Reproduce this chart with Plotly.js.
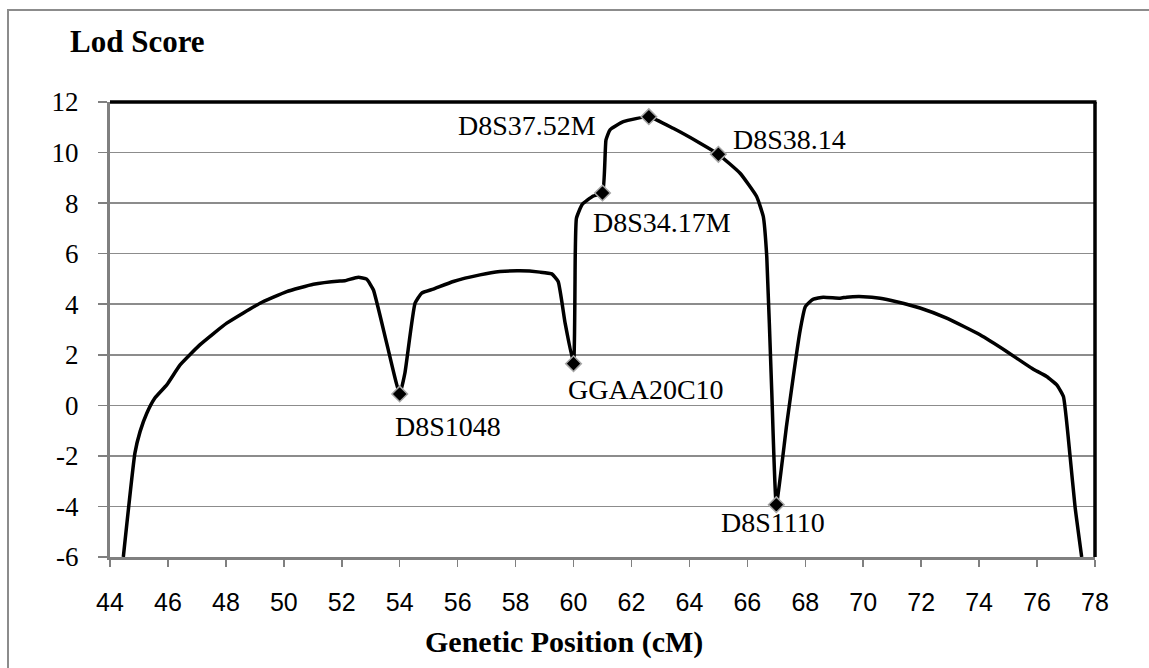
<!DOCTYPE html>
<html>
<head>
<meta charset="utf-8">
<script src="https://cdn.plot.ly/plotly-3.0.1.min.js"></script>
<style>html,body{margin:0;padding:0;background:#fff;}</style>
</head>
<body>
<div id="chart" style="width:1149px;height:668px;"></div>
<script>
// Lod score curve (genetic position in cM, lod score)
const positions = [44.46, 44.86, 45.04, 45.27, 45.55, 45.96, 46.42, 47.11, 48.03, 49.18, 50.1, 51.02, 51.94, 52.11, 52.57, 52.86, 53.09, 53.55, 54.0, 54.18, 54.53, 54.76, 55.16, 55.85, 56.77, 57.46, 58.15, 58.84, 59.25, 59.47, 59.71, 60.0, 60.06, 60.1, 60.3, 60.68, 61.0, 61.12, 61.26, 61.72, 62.6, 63.44, 64.37, 65.0, 65.75, 66.32, 66.55, 66.67, 66.84, 67.0, 67.36, 67.82, 68.0, 68.16, 68.28, 68.62, 69.2, 69.43, 70.0, 70.58, 71.15, 71.96, 72.88, 74.03, 74.95, 75.64, 75.87, 76.33, 76.68, 76.91, 77.14, 77.31, 77.54];
const lodScores = [-6, -1.89, -1.03, -0.31, 0.29, 0.81, 1.6, 2.4, 3.25, 4.04, 4.5, 4.79, 4.92, 4.93, 5.07, 4.99, 4.57, 2.46, 0.45, 1.28, 4.04, 4.44, 4.6, 4.9, 5.16, 5.29, 5.32, 5.27, 5.2, 4.9, 3.25, 1.65, 6.0, 7.4, 7.95, 8.28, 8.4, 10.5, 10.9, 11.22, 11.42, 10.96, 10.37, 9.93, 9.18, 8.26, 7.47, 5.89, 0.62, -3.93, -0.75, 2.95, 3.9, 4.1, 4.2, 4.28, 4.24, 4.28, 4.3, 4.24, 4.1, 3.85, 3.45, 2.79, 2.13, 1.6, 1.43, 1.14, 0.81, 0.35, -2.02, -4.0, -6];

// Marker loci
const markerNames = ["D8S1048", "GGAA20C10", "D8S34.17M", "D8S37.52M", "D8S38.14", "D8S1110"];
const markerPos = [54.0, 60.0, 61.0, 62.6, 65.0, 67.0];
const markerLod = [0.45, 1.65, 8.4, 11.42, 9.93, -3.93];
// label anchor positions (data coords)
const labelX = [55.68, 62.5, 63.05, 58.39, 67.44, 66.87];
const labelY = [-0.82, 0.61, 7.25, 11.09, 10.5, -4.65];

// Axis ticks
const yTickVals = [-6, -4, -2, 0, 2, 4, 6, 8, 10, 12];
const yTickText = ["-6", "-4", "-2", "0", "2", "4", "6", "8", "10", "12"];
const xTickVals = [44, 46, 48, 50, 52, 54, 56, 58, 60, 62, 64, 66, 68, 70, 72, 74, 76, 78];

const serif = "Liberation Serif";
const sans = "Liberation Sans";

const traces = [
  {
    x: positions, y: lodScores, type: 'scatter', mode: 'lines',
    line: {color: '#000', width: 3.5, shape: 'spline', smoothing: 0.4},
    hoverinfo: 'skip', showlegend: false
  },
  {
    x: markerPos, y: markerLod, type: 'scatter', mode: 'markers',
    text: markerNames,
    marker: {symbol: 'diamond', size: 12, color: '#000', line: {color: '#a6a6a6', width: 1.5}},
    showlegend: false, cliponaxis: false
  }
];

const annotations = markerNames.map((n, i) => ({
  x: labelX[i], y: labelY[i], xref: 'x', yref: 'y', text: n, showarrow: false,
  xanchor: 'center', yanchor: 'middle',
  font: {family: serif, size: 28, color: '#000'}
}));
annotations.push({
  x: (564 - 110) / 985, y: (557 - 642) / 455, xref: 'paper', yref: 'paper',
  text: '<b>Genetic Position (cM)</b>', showarrow: false,
  xanchor: 'center', yanchor: 'middle',
  font: {family: serif, size: 30, color: '#000'}
});

const layout = {
  width: 1149, height: 668,
  margin: {l: 110, r: 54, t: 102, b: 111, pad: 0},
  paper_bgcolor: '#fff', plot_bgcolor: '#fff',
  showlegend: false,
  title: {
    text: '<b>Lod Score</b>', xref: 'container', yref: 'container',
    x: 70 / 1149, xanchor: 'left', y: 1 - 41 / 668, yanchor: 'middle',
    font: {family: serif, size: 31, color: '#000'}
  },
  xaxis: {
    range: [44, 78], tickvals: xTickVals, showgrid: false, zeroline: false,
    showline: true, linecolor: '#808080', linewidth: 3,
    ticks: 'outside', ticklen: 7, tickwidth: 1.5, tickcolor: '#808080',
    ticklabelstandoff: 14,
    tickfont: {family: sans, size: 25, color: '#000'}
  },
  yaxis: {
    range: [-6, 12], tickvals: yTickVals, ticktext: yTickText,
    showgrid: true, gridcolor: '#8c8c8c', gridwidth: 1.5, zeroline: false,
    showline: true, linecolor: '#808080', linewidth: 3,
    ticks: 'outside', ticklen: 9, tickwidth: 1.5, tickcolor: '#808080',
    ticklabelstandoff: 14,
    tickfont: {family: serif, size: 27, color: '#000'}
  },
  shapes: [
    {type: 'rect', xref: 'paper', yref: 'paper', x0: (8 - 110) / 985, x1: 1.3, y0: -0.5, y1: (557 - 10) / 455,
     line: {color: '#8c8c8c', width: 2}, layer: 'below'},
    {type: 'line', xref: 'paper', yref: 'paper', x0: 0, x1: 1.0015, y0: 1, y1: 1, line: {color: '#000', width: 3.5}},
    {type: 'line', xref: 'paper', yref: 'paper', x0: 1, x1: 1, y0: 0, y1: 1, line: {color: '#000', width: 3.5}}
  ],
  annotations: annotations
};

Plotly.newPlot('chart', traces, layout, {displayModeBar: false, staticPlot: true});
</script>
</body>
</html>
